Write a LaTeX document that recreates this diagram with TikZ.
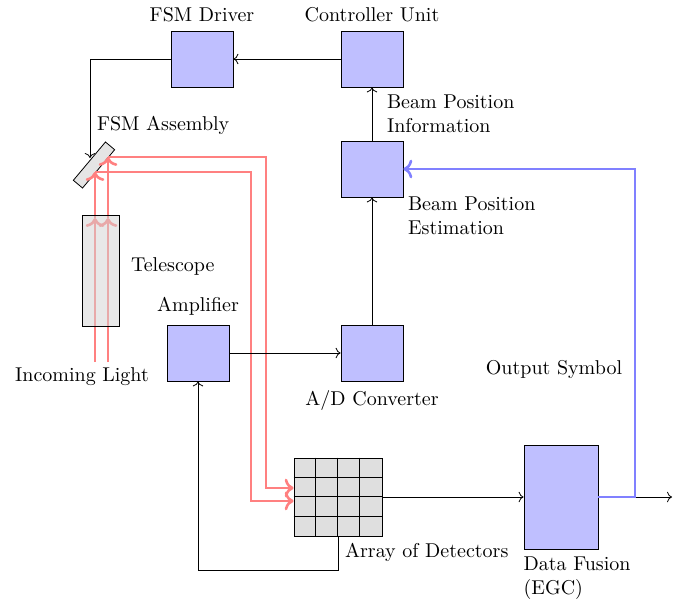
\documentclass[tikz,border=0pt]{standalone}
\usepackage{amsmath,amssymb}
\usepackage{xcolor}
\usepackage{tikz}
\usetikzlibrary{arrows.meta,positioning,calc}

\begin{document}
\begin{tikzpicture}[x=0.5pt, y=-0.5pt, >=To,
  block/.style={draw, fill=blue!25, minimum width=31pt, minimum height=28pt, inner sep=0pt},
  optic/.style={draw, fill=gray!20, inner sep=0pt},
  light/.style={draw=red!50, line width=1.3pt},
  feedback/.style={draw=blue!50, line width=1.3pt},
  lbl/.style={align=left}
]
\useasboundingbox (0,0) rectangle (674,601);

% processing blocks
\node[block] (drv) at (202,59) {};
\node[block] (ctrl) at (372,59) {};
\node[block] (est) at (372,169) {};
\node[block] (adc) at (372,353) {};
\node[block] (amp) at (198,353) {};
\node[block, minimum width=37pt, minimum height=52pt] (fus) at (561,497) {};

% detector array
\node[optic, fill=gray!25, minimum width=44pt, minimum height=39pt] (det) at (338,497) {};
\foreach \i in {1,2,3} {
  \draw[semithick] ($(det.north west)+(\i*22,0)$) -- ++(0,78);
  \draw[semithick] ($(det.north west)+(0,\i*19.5)$) -- ++(88,0);
}

% steering mirror
\node[optic, rotate=50, minimum width=25pt, minimum height=6pt] (fsm) at (94,165) {};

\coordinate (in1) at (95,362);
\coordinate (in2) at (108,362);
\coordinate (tin1) at (95,218);
\coordinate (tin2) at (108,218);
\coordinate (m1) at (95,172);
\coordinate (m2) at (108,157);
\coordinate (fsmin) at (90,158);
\coordinate (tap) at (635,497);
\coordinate (out) at (672,497);

% light path
\draw[light,->] (in1) -- (tin1);
\draw[light,->] (in2) -- (tin2);
\draw[light,->] (tin1) -- (m1);
\draw[light,->] (tin2) -- (m2);
\draw[light,->] (m1) -- ++(156,0) |- ([yshift=-2pt]det.west);
\draw[light,->] (m2) -- ++(158,0) |- ([yshift=4.5pt]det.west);

% telescope
\node[optic, fill=gray!35, fill opacity=0.5, minimum width=18.5pt, minimum height=55.5pt] (tel) at (100.5,270.5) {};

% signal path
\draw[->] (ctrl) -- (drv);
\draw[->] (drv.west) -| (fsmin);
\draw[->] (est) -- node[lbl, right, xshift=4pt] (info) {Beam Position\\Information} (ctrl);
\draw[->] (adc) -- (est);
\draw[->] (amp) -- (adc);
\draw[->] (det.south) -- ++(0,34) -| (amp.south);
\draw[->] (det) -- (fus);
\draw[->] (fus) -- (out);
\draw[feedback,->] (fus.east) -- (tap) |- (est.east);

% labels
\node[above=1pt of drv] (drvlbl) {FSM Driver};
\node[above=1pt of ctrl] (ctrllbl) {Controller Unit};
\node[above=1pt of amp] (amplbl) {Amplifier};
\node[below=1pt of adc] (adclbl) {A/D Converter};
\node[lbl, anchor=north west] (estlbl) at (401,190) {Beam Position\\Estimation};
\node[anchor=west] (fsmlbl) at (90,125) {FSM Assembly};
\node[anchor=west] (tellbl) at (124,266) {Telescope};
\node (inlbl) at (82,377) {Incoming Light};
\node (outlbl) at (554,369) {Output Symbol};
\node[below right=0pt of det.south] (detlbl) {Array of Detectors};
\node[lbl, anchor=north west] (fuslbl) at ([xshift=-3.5pt]fus.south west) {Data Fusion\\(EGC)};
\end{tikzpicture}
\end{document}
